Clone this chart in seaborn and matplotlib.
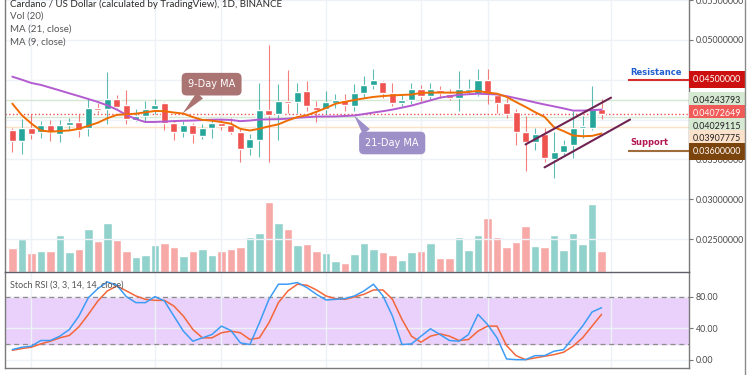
import numpy as np
import pandas as pd
import seaborn as sns
import matplotlib.pyplot as plt
import matplotlib.transforms as mtransforms
from matplotlib.lines import Line2D

# ---- ADA/USD daily candles ----
opens = [0.03863, 0.03725, 0.0390, 0.0385, 0.03938, 0.03825, 0.03938, 0.03975, 0.03888, 0.0415,
         0.04138, 0.04263, 0.04188, 0.0400, 0.0405, 0.04138, 0.04213, 0.03963, 0.03838, 0.03938,
         0.0380, 0.0390, 0.03963, 0.03938, 0.0385, 0.03638, 0.03738, 0.04125, 0.04075, 0.04238,
         0.04225, 0.04363, 0.04163, 0.04138, 0.04213, 0.0425, 0.04175, 0.04338, 0.04438, 0.04475,
         0.04338, 0.04213, 0.0425, 0.04388, 0.0430, 0.04375, 0.04325, 0.04275, 0.04363, 0.04325,
         0.0450, 0.04313, 0.04213, 0.0410, 0.03838, 0.03713, 0.03825, 0.0350, 0.03588, 0.03675,
         0.0390, 0.0390, 0.04138]
highs = [0.03888, 0.04013, 0.04075, 0.03988, 0.0400, 0.0400, 0.04025, 0.04075, 0.04263, 0.04213,
         0.0460, 0.04313, 0.04375, 0.04138, 0.04238, 0.04263, 0.04225, 0.0400, 0.03988, 0.03963,
         0.0395, 0.04013, 0.04013, 0.04025, 0.0390, 0.03825, 0.04463, 0.04938, 0.0445, 0.04625,
         0.04463, 0.04488, 0.04238, 0.04363, 0.04325, 0.04325, 0.0445, 0.0455, 0.04638, 0.04488,
         0.04463, 0.04325, 0.04463, 0.04438, 0.04463, 0.04425, 0.04388, 0.04613, 0.04513, 0.04638,
         0.04638, 0.04338, 0.04275, 0.04138, 0.0405, 0.03888, 0.03888, 0.03838, 0.03738, 0.04113,
         0.0405, 0.04425, 0.04263]
lows = [0.03588, 0.03563, 0.0375, 0.03763, 0.03725, 0.03713, 0.03863, 0.03775, 0.03788, 0.04088,
        0.0395, 0.0415, 0.0395, 0.03988, 0.03975, 0.04075, 0.03863, 0.03738, 0.03775, 0.0370,
        0.0375, 0.03763, 0.03863, 0.03825, 0.03463, 0.0355, 0.03525, 0.03463, 0.03738, 0.04088,
        0.04088, 0.04113, 0.03975, 0.04075, 0.0415, 0.04113, 0.04113, 0.04275, 0.04388, 0.04275,
        0.04175, 0.04175, 0.0420, 0.04238, 0.0425, 0.04275, 0.0425, 0.04113, 0.04325, 0.0430,
        0.0420, 0.04088, 0.04025, 0.03675, 0.0335, 0.03613, 0.03463, 0.03263, 0.0355, 0.03513,
        0.03763, 0.03863, 0.04013]
closes = [0.03725, 0.03888, 0.03825, 0.03938, 0.03838, 0.03938, 0.03975, 0.03863, 0.0415, 0.04125,
          0.04263, 0.04163, 0.04013, 0.0405, 0.04138, 0.04188, 0.03963, 0.0385, 0.03938, 0.03813,
          0.0390, 0.03963, 0.03913, 0.0385, 0.03625, 0.0375, 0.04125, 0.04063, 0.04238, 0.04213,
          0.0435, 0.04175, 0.04125, 0.04225, 0.0425, 0.04188, 0.04338, 0.04438, 0.0450, 0.04338,
          0.04213, 0.0425, 0.04388, 0.0430, 0.04388, 0.04338, 0.04275, 0.04388, 0.04388, 0.0450,
          0.04325, 0.04213, 0.04075, 0.03838, 0.03713, 0.03813, 0.03513, 0.03588, 0.03675, 0.0390,
          0.03913, 0.04138, 0.04075]

ma21 = [0.04538, 0.0450, 0.04459, 0.04435, 0.0440, 0.04365, 0.04329, 0.04294, 0.04258, 0.04221,
        0.04178, 0.04125, 0.04058, 0.04006, 0.03969, 0.0397, 0.03975, 0.03981, 0.03985, 0.03988,
        0.03994, 0.03998, 0.03999, 0.03995, 0.0398, 0.03988, 0.0400, 0.04003, 0.04005, 0.04011,
        0.04023, 0.0403, 0.04038, 0.04038, 0.04039, 0.04045, 0.04051, 0.04069, 0.04088, 0.04105,
        0.04125, 0.0415, 0.04175, 0.04208, 0.04241, 0.04275, 0.04293, 0.0431, 0.04318, 0.04324,
        0.0432, 0.04315, 0.04294, 0.04268, 0.04243, 0.04215, 0.04189, 0.04165, 0.0414, 0.04113,
        0.04113, 0.04118, 0.04125]
ma9 = [0.0420, 0.04055, 0.0395, 0.03863, 0.03848, 0.03856, 0.03863, 0.03884, 0.0392, 0.03961,
       0.04016, 0.04059, 0.04066, 0.04074, 0.04091, 0.04108, 0.04105, 0.04088, 0.04075, 0.04031,
       0.03996, 0.03986, 0.03969, 0.03948, 0.03883, 0.03863, 0.03885, 0.03915, 0.0394, 0.0399,
       0.04031, 0.04054, 0.04098, 0.04145, 0.04198, 0.04223, 0.04245, 0.04266, 0.04284, 0.04295,
       0.04303, 0.04309, 0.04314, 0.04334, 0.04338, 0.04338, 0.04338, 0.04339, 0.04346, 0.0436,
       0.04338, 0.04325, 0.04285, 0.0422, 0.04159, 0.04093, 0.04034, 0.03904, 0.03855, 0.038,
       0.03791, 0.03795, 0.03825]

# volume, millions ADA
volume = [71, 100, 58, 64, 64, 110, 59, 70, 128, 92, 146, 95, 64, 44, 52, 82, 86, 74, 47, 62,
          70, 50, 64, 70, 74, 104, 118, 211, 148, 128, 80, 85, 64, 58, 34, 28, 55, 88, 70, 61,
          50, 37, 59, 64, 86, 41, 41, 106, 65, 110, 163, 104, 76, 91, 137, 77, 76, 110, 67, 118,
          85, 203, 64]

# Stoch RSI (3, 3, 14, 14)
stoch_k = [13.2, 16.2, 17.5, 24.7, 24.7, 30.2, 38.7, 55.7, 79.1, 90.6, 99.1, 94.9, 80.4, 72.8,
           72.8, 80.4, 74.9, 55.7, 36.6, 23.8, 28.1, 32.3, 43.0, 37.4, 21.7, 19.6, 47.2, 77.0,
           96.2, 96.2, 98.3, 91.9, 83.4, 76.2, 77.0, 77.9, 81.3, 87.7, 96.2, 81.3, 55.7, 19.6,
           20.4, 30.2, 39.6, 32.3, 24.7, 23.8, 32.3, 57.9, 45.1, 28.1, 1.3, 0.4, 0.4, 5.5, 5.5,
           11.1, 13.2, 28.1, 43.0, 60.9, 66.4]
stoch_d = [12.3, 14.5, 16.2, 20.4, 23.8, 28.1, 31.1, 42.1, 57.9, 74.9, 87.7, 94.0, 87.7, 81.3,
           77.0, 75.7, 75.7, 68.5, 55.7, 38.7, 28.1, 28.1, 34.5, 36.6, 34.5, 26.0, 28.1, 47.2,
           72.8, 87.7, 96.2, 94.9, 88.9, 81.3, 77.9, 77.0, 80.0, 83.4, 88.9, 88.9, 77.0, 51.5,
           30.2, 22.6, 30.2, 33.2, 30.2, 24.7, 26.0, 36.6, 43.0, 43.0, 18.3, 5.5, 0.4, 2.6, 4.7,
           6.8, 9.8, 17.5, 28.1, 43.0, 57.9]

date_ticks = [2, 15, 22, 33, 43, 50, 63]
price_ticks = [0.025, 0.03, 0.035, 0.04, 0.045, 0.05, 0.055]
price_tick_labels = ['0.02500000', '0.03000000', '0.03500000', '', '', '0.05000000', '0.05500000']
rsi_ticks = [0, 40, 80]
rsi_tick_labels = ['0.00', '40.00', '80.00']

tag_values = [0.045, 0.04243793, 0.04072649, 0.04029115, 0.03907775, 0.036]
resistance = 0.045
support = 0.036
channel_upper_x, channel_upper_y = [54, 63], [0.03688, 0.04275]
channel_lower_x, channel_lower_y = [56, 65], [0.0340, 0.0400]

GREEN, RED = '#26a69a', '#ef5350'
GRID = '#eef1f5'

sns.set_style('white')
plt.rcParams['font.family'] = ['Lato', 'DejaVu Sans']

df = pd.DataFrame({'day': np.arange(len(closes)), 'open': opens, 'high': highs,
                   'low': lows, 'close': closes, 'ma21': ma21, 'ma9': ma9,
                   'vol': volume, 'k': stoch_k, 'd': stoch_d})
up = df['close'] >= df['open']

W, H = 750, 375
def px_rect(l, t, r, b):
    return [l / W, 1 - b / H, (r - l) / W, (b - t) / H]

fig = plt.figure(figsize=(7.5, 3.75), dpi=100)
ax = fig.add_axes(px_rect(5, 0, 689, 272))
ax_rsi = fig.add_axes(px_rect(5, 272, 689, 368), sharex=ax)

# volume underneath the candles
ax_vol = ax.twinx()
ax_vol.bar(df['day'], df['vol'], width=0.9,
           color=np.where(up, '#92d2cc', '#f7a9a8'), zorder=1)
ax_vol.set_ylim(0, max(volume) * 3.87)
ax_vol.set_yticks([])
for s in ax_vol.spines.values():
    s.set_visible(False)
ax.set_zorder(ax_vol.get_zorder() + 1)
ax.patch.set_visible(False)
ax.yaxis.tick_right()

# price lines behind candles
tag_line = [None, ('#d5e8d4', '-'), (RED, ':'), ('#d5e8d4', '-'), ('#fde0c5', '-'), None]
for v, st in zip(tag_values, tag_line):
    if st:
        ax.axhline(v, color=st[0], ls=st[1], lw=1, zorder=1)

# candles
ax.vlines(df['day'], df['low'], df['high'], colors=np.where(up, GREEN, RED), lw=0.8, alpha=0.75, zorder=2)
body_lo = np.minimum(df['open'], df['close'])
body_h = np.maximum(np.abs(df['close'] - df['open']), 0.00012)
ax.bar(df['day'], body_h, bottom=body_lo, width=0.74,
       color=np.where(up, GREEN, RED), zorder=3)

sns.lineplot(data=df, x='day', y='ma21', ax=ax, color='#b35bd0', lw=1.4, zorder=4)
sns.lineplot(data=df, x='day', y='ma9', ax=ax, color='#ef6c00', lw=1.4, zorder=5)

# rising channel
ax.plot(channel_upper_x, channel_upper_y, color='#6e2352', lw=1.5, zorder=6)
ax.plot(channel_lower_x, channel_lower_y, color='#6e2352', lw=1.5, zorder=6)

# resistance / support marks near the scale
ax.hlines(resistance, 64.8, 71.2, color='#d32f2f', lw=1.5, zorder=6)
ax.hlines(support, 64.8, 71.2, color='#9e6b3c', lw=1.5, zorder=6)
ax.annotate('Resistance', (65, resistance), xytext=(0, 2), textcoords='offset points',
            color='#1f5fd0', fontsize=6, fontweight='bold', family='DejaVu Sans', va='bottom')
ax.annotate('Support', (65, support), xytext=(0, 3), textcoords='offset points',
            color='#b2174f', fontsize=6, fontweight='bold', family='DejaVu Sans', va='bottom')

# MA callouts
ax.annotate('9-Day MA', xy=(17.9, 0.04075), xytext=(20.97, 0.04444), textcoords='data',
            ha='center', va='center', color='white', fontsize=7, family='DejaVu Sans',
            bbox=dict(boxstyle='round,pad=0.65,rounding_size=0.5', fc='#aa7473', ec='none'),
            arrowprops=dict(arrowstyle='wedge,tail_width=0.9', fc='#aa7473', ec='none',
                            shrinkA=0, shrinkB=0, relpos=(0.4, 0.1)), zorder=7)
ax.annotate('21-Day MA', xy=(35.97, 0.0405), xytext=(39.97, 0.03706), textcoords='data',
            ha='center', va='center', color='white', fontsize=7, family='DejaVu Sans',
            bbox=dict(boxstyle='round,pad=0.65,rounding_size=0.5', fc='#9d8fc7', ec='none'),
            arrowprops=dict(arrowstyle='wedge,tail_width=0.9', fc='#9d8fc7', ec='none',
                            shrinkA=0, shrinkB=0, relpos=(0.12, 0.9)), zorder=7)

ax.set_xlim(-0.77, 71.2)
ax.set_ylim(0.020875, 0.054875)
ax.set_yticks(price_ticks)
ax.set_yticklabels(price_tick_labels)
ax.set_xticks(date_ticks)
ax.tick_params(axis='x', length=0, labelbottom=False)
ax.tick_params(axis='y', length=3, width=0.8, color='#777', labelsize=6.4, labelcolor='#4a4a4a', pad=2)
ax.grid(True, color=GRID, lw=1)
ax.set_xlabel('')
ax.set_ylabel('')

# tags on the price scale
blend = mtransforms.blended_transform_factory(ax.transAxes, ax.transData)
tag_style = [('#cc1010', 'white', 0), ('#d5e9d2', '#222', 0), ('#f05a58', 'white', 0),
             ('#d5e9d2', '#222', -6.5), ('#fde2cb', '#222', -8.3), ('#7b440c', 'white', 0)]
for v, (fc, tc, dy) in zip(tag_values, tag_style):
    ax.annotate(f'{v:.8f}', (1, v), xycoords=blend, xytext=(3, dy), textcoords='offset points',
                ha='left', va='center', fontsize=6.4, color=tc, annotation_clip=False,
                bbox=dict(boxstyle='square,pad=0.45', fc=fc, ec='none'), zorder=8)

# Stoch RSI pane
ax_rsi.axhspan(20, 80, color='#e9d1fb', zorder=0)
ax_rsi.axhline(80, color='#8c8c8c', ls=(0, (4, 3)), lw=0.9, zorder=1)
ax_rsi.axhline(20, color='#8c8c8c', ls=(0, (4, 3)), lw=0.9, zorder=1)
sns.lineplot(data=df, x='day', y='k', ax=ax_rsi, color='#3d9cf5', lw=1.1, zorder=3)
sns.lineplot(data=df, x='day', y='d', ax=ax_rsi, color='#f4663a', lw=1.1, zorder=2)
ax_rsi.set_ylim(-10.2, 111.7)
ax_rsi.yaxis.tick_right()
ax_rsi.set_yticks(rsi_ticks)
ax_rsi.set_yticklabels(rsi_tick_labels)
ax_rsi.tick_params(axis='y', length=3, width=0.8, color='#777', labelsize=6.4, labelcolor='#4a4a4a', pad=2)
ax_rsi.tick_params(axis='x', length=4, width=0.8, color='#777', labelbottom=False, direction='out')
ax_rsi.grid(True, color=GRID, lw=1)
ax_rsi.set_xlabel('')
ax_rsi.set_ylabel('')

for a in (ax, ax_rsi):
    for side, s in a.spines.items():
        s.set_color('#7a7a7a')
        s.set_linewidth(1)
    a.spines['top'].set_visible(False)
ax.spines['bottom'].set_color('#5d606b')

# legend texts
fig.text(10 / W, 1 - 4 / H, 'Cardano / US Dollar (calculated by TradingView), 1D, BINANCE',
         fontsize=7, color='#2a2a2a', va='center')
for txt, y in [('Vol (20)', 16), ('MA (21, close)', 29), ('MA (9, close)', 42)]:
    fig.text(10 / W, 1 - y / H, txt, fontsize=7, color='#555', va='center')
fig.text(10 / W, 1 - 285 / H, 'Stoch RSI (3, 3, 14, 14, close)', fontsize=6.5, color='#555', va='center')

fig.add_artist(Line2D([745 / W, 745 / W], [0, 1], color='#8a8a8a', lw=1))

plt.savefig('out.png', dpi=100)
